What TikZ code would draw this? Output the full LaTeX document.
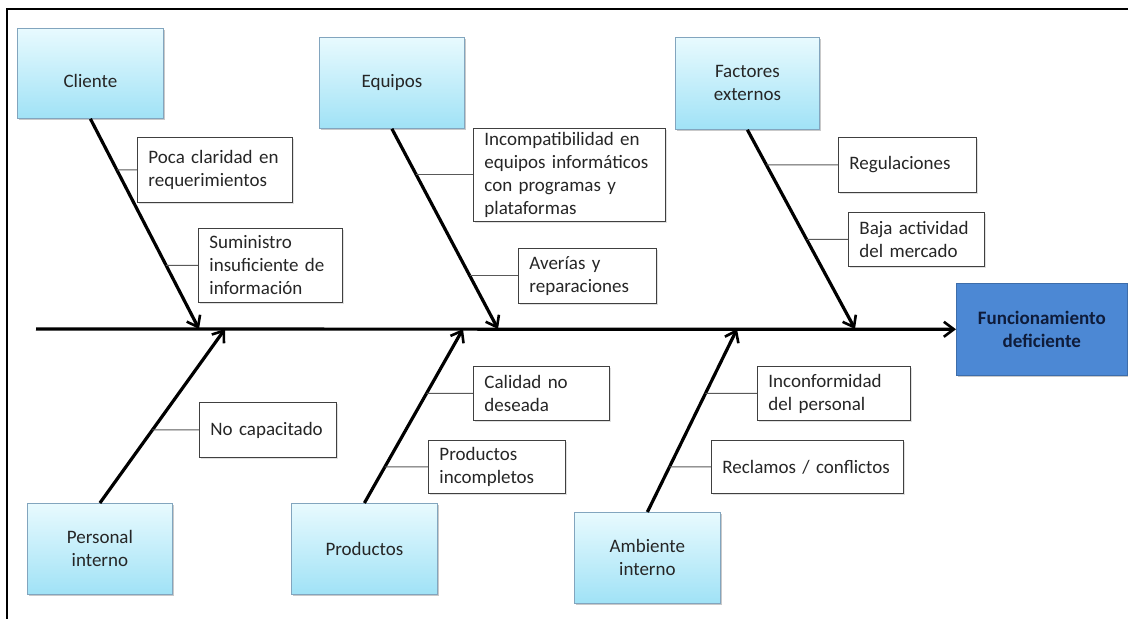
\documentclass[tikz,border=0pt]{standalone}
\usepackage{fontspec}
\setmainfont{Carlito}
\usetikzlibrary{arrows.meta,shadows,calc}
\definecolor{cyTop}{RGB}{232,250,254}
\definecolor{cyBot}{RGB}{160,226,246}
\definecolor{cyEdge}{RGB}{130,165,190}
\definecolor{effBlue}{RGB}{76,136,212}
\definecolor{effText}{RGB}{15,28,58}
\definecolor{txt}{RGB}{38,38,38}
\begin{document}
\begin{tikzpicture}[x=1pt,y=-1pt,
  every node/.style={font=\fontsize{19}{23}\selectfont, text=txt},
  catbox/.style={draw=cyEdge, line width=0.8pt, top color=cyTop, bottom color=cyBot,
    anchor=north west, align=center, inner sep=0pt,
    drop shadow={shadow xshift=2pt, shadow yshift=-2pt, opacity=.3, fill=black!70}},
  causebox/.style={draw=black!75, line width=0.9pt, fill=white, anchor=north west,
    align=left, inner xsep=11pt, inner ysep=0pt,
    drop shadow={shadow xshift=1.5pt, shadow yshift=-1.5pt, opacity=.12, fill=black}},
  effectbox/.style={draw=effBlue!80!black, line width=0.6pt, fill=effBlue, anchor=north west,
    align=center, inner sep=0pt, text=effText, font=\fontsize{19}{23}\selectfont\bfseries,
    drop shadow={shadow xshift=2pt, shadow yshift=-2pt, opacity=.3, fill=black!70}},
  bone/.style={line width=3.2pt, -{Straight Barb[length=10pt,width=15pt,line width=2.6pt]}},
  tick/.style={line width=1pt, draw=black!65}
]
\useasboundingbox (0,0) rectangle (1128,619);
% frame
\coordinate (fTR) at (1128,9);
\coordinate (fTL) at (7,9);
\coordinate (fBL) at (7,619);
\draw[line width=1.4pt] (fTR) -- (fTL) -- (fBL);

% category boxes
\node[catbox, minimum width=146pt, minimum height=90pt] (cli) at (17,28) {\raisebox{-8pt}[\height][\depth]{Cliente}};
\node[catbox, minimum width=145pt, minimum height=91pt] (equ) at (319,37) {Equipos};
\node[catbox, minimum width=144pt, minimum height=92pt] (fac) at (675,37) {Factores\\externos};
\node[catbox, minimum width=145pt, minimum height=91pt] (per) at (27,503) {Personal\\interno};
\node[catbox, minimum width=146pt, minimum height=91pt] (pro) at (291,503) {Productos};
\node[catbox, minimum width=146pt, minimum height=91pt] (amb) at (574,512) {Ambiente\\interno};

% effect
\node[effectbox, minimum width=171pt, minimum height=92pt] (eff) at (956,283) {Funcionamiento\\deficiente};

% spine
\coordinate (s0) at (36,329);
\draw[bone] (s0) -- (eff.west);

% tips on spine
\coordinate (t1) at (199,329);
\coordinate (t2) at (498,329);
\coordinate (t3) at (855,329);
\coordinate (t4) at (225,329);
\coordinate (t5) at (463,329);
\coordinate (t6) at (737,329);

\draw[bone] (cli.south) -- (t1);
\draw[bone] (equ.south) -- (t2);
\draw[bone] (fac.south) -- (t3);
\draw[bone] (per.north) -- (t4);
\draw[bone] (pro.north) -- (t5);
\draw[bone] (amb.north) -- (t6);

% cause boxes
\node[causebox, minimum width=155pt, minimum height=65pt, text width=133pt] (c1) at (137,137) {Poca claridad en\\requerimientos};
\node[causebox, minimum width=144pt, minimum height=74pt, text width=122pt] (c2) at (198,228) {Suministro\\insuficiente de\\información};
\node[causebox, minimum width=192pt, minimum height=93pt, text width=170pt] (c3) at (473,128) {Incompatibilidad en\\equipos informáticos\\con programas y\\plataformas};
\node[causebox, minimum width=138pt, minimum height=55pt, text width=116pt] (c4) at (518,248) {Averías y\\reparaciones};
\node[causebox, minimum width=138pt, minimum height=55pt, text width=116pt] (c5) at (838,137) {Regulaciones};
\node[causebox, minimum width=136pt, minimum height=54pt, text width=114pt] (c6) at (848,212) {Baja actividad\\del mercado};
\node[causebox, minimum width=137pt, minimum height=55pt, text width=115pt] (c7) at (199,402) {No capacitado};
\node[causebox, minimum width=136pt, minimum height=54pt, text width=114pt] (c8) at (473,366) {Calidad no\\deseada};
\node[causebox, minimum width=137pt, minimum height=53pt, text width=115pt] (c9) at (428,440) {Productos\\incompletos};
\node[causebox, minimum width=153pt, minimum height=54pt, text width=131pt] (c10) at (757,366) {Inconformidad\\del personal};
\node[causebox, minimum width=192pt, minimum height=53pt, text width=170pt] (c11) at (711,440) {Reclamos / conflictos};

% ticks
\foreach \b/\s/\t in {c1/cli.south/t1, c2/cli.south/t1, c3/equ.south/t2, c4/equ.south/t2,
                      c5/fac.south/t3, c6/fac.south/t3, c7/per.north/t4, c8/pro.north/t5,
                      c9/pro.north/t5, c10/amb.north/t6, c11/amb.north/t6}{
  \draw[tick] (\b.west) -- (intersection cs: first line={(\b.west)--([xshift=-10pt]\b.west)},
                                             second line={(\s)--(\t)});
}
\end{tikzpicture}
\end{document}
